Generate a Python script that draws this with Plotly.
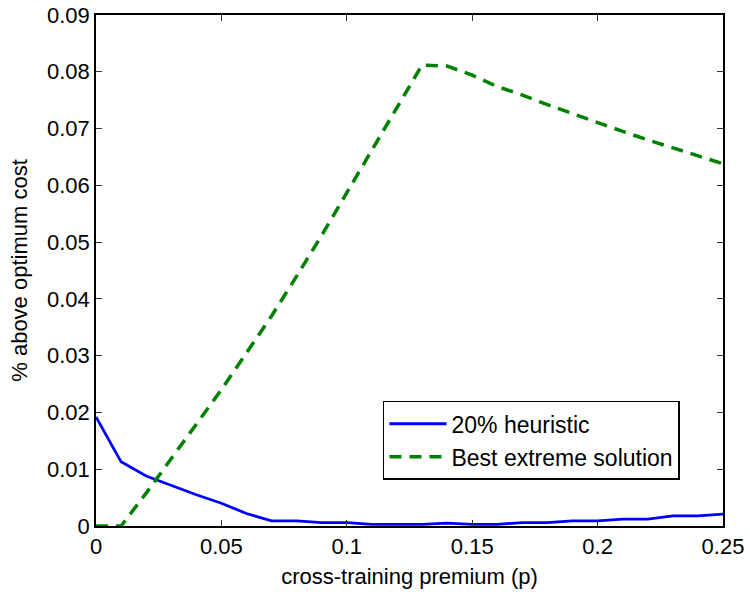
import plotly.graph_objects as go

# cross-training premium p
premium = [0.00, 0.01, 0.02, 0.03, 0.04, 0.05, 0.06, 0.07, 0.08, 0.09, 0.10, 0.11, 0.12,
           0.13, 0.14, 0.15, 0.16, 0.17, 0.18, 0.19, 0.20, 0.21, 0.22, 0.23, 0.24, 0.25]

# % above optimum cost for each policy
heuristic_20 = [0.0192, 0.0113, 0.0088, 0.0071, 0.0055, 0.0040, 0.0022, 0.0009, 0.0009, 0.0006,
                0.0006, 0.0003, 0.0003, 0.0003, 0.0005, 0.0003, 0.0003, 0.0006, 0.0006, 0.0009,
                0.0009, 0.0012, 0.0012, 0.0018, 0.0018, 0.0021]
best_extreme = [0.0000, 0.0000, 0.0058, 0.0118, 0.0178, 0.0240, 0.0305, 0.0370, 0.0440, 0.0512,
                0.0587, 0.0662, 0.0737, 0.0812, 0.0810, 0.0794, 0.0774, 0.0759, 0.0742, 0.0726,
                0.0711, 0.0695, 0.0680, 0.0666, 0.0652, 0.0638]

x_ticks = [0, 0.05, 0.1, 0.15, 0.2, 0.25]
x_tick_text = ["0", "0.05", "0.1", "0.15", "0.2", "0.25"]
y_ticks = [0, 0.01, 0.02, 0.03, 0.04, 0.05, 0.06, 0.07, 0.08, 0.09]
y_tick_text = ["0", "0.01", "0.02", "0.03", "0.04", "0.05", "0.06", "0.07", "0.08", "0.09"]

FONT = "Liberation Sans, Arial, Helvetica, sans-serif"
SIZE = 22

fig = go.Figure()
fig.add_trace(go.Scatter(
    x=premium, y=heuristic_20, mode="lines", name="20% heuristic",
    line=dict(color="#0000FF", width=2.8),
))
fig.add_trace(go.Scatter(
    x=premium, y=best_extreme, mode="lines", name="Best extreme solution",
    line=dict(color="#008000", width=3.5, dash="12px,8px"),
))

axis_common = dict(
    showline=True, linecolor="black", linewidth=1.5, mirror="ticks",
    ticks="inside", ticklen=6, tickwidth=1, tickcolor="#333333",
    showgrid=False, zeroline=False, automargin=False,
    tickfont=dict(family=FONT, size=SIZE, color="black"),
)

fig.update_layout(
    width=750, height=595,
    margin=dict(l=96, r=27, t=15, b=69),
    paper_bgcolor="white", plot_bgcolor="white",
    font=dict(family=FONT, size=SIZE, color="black"),
    xaxis=dict(
        range=[0, 0.25], tickvals=x_ticks, ticktext=x_tick_text,
        title=dict(text="cross-training premium (p)", standoff=10,
                   font=dict(family=FONT, size=SIZE, color="black")),
        **axis_common,
    ),
    yaxis=dict(
        range=[0, 0.09], tickvals=y_ticks, ticktext=y_tick_text,
        title=dict(text="% above optimum cost", standoff=13,
                   font=dict(family=FONT, size=SIZE, color="black")),
        **axis_common,
    ),
    legend=dict(
        x=0.4577, y=0.245, xanchor="left", yanchor="top",
        bgcolor="white", bordercolor="black", borderwidth=1.5,
        font=dict(family=FONT, size=23, color="black"),
        tracegroupgap=0, itemwidth=57,
    ),
    showlegend=True,
)

fig.write_html("out.html")
